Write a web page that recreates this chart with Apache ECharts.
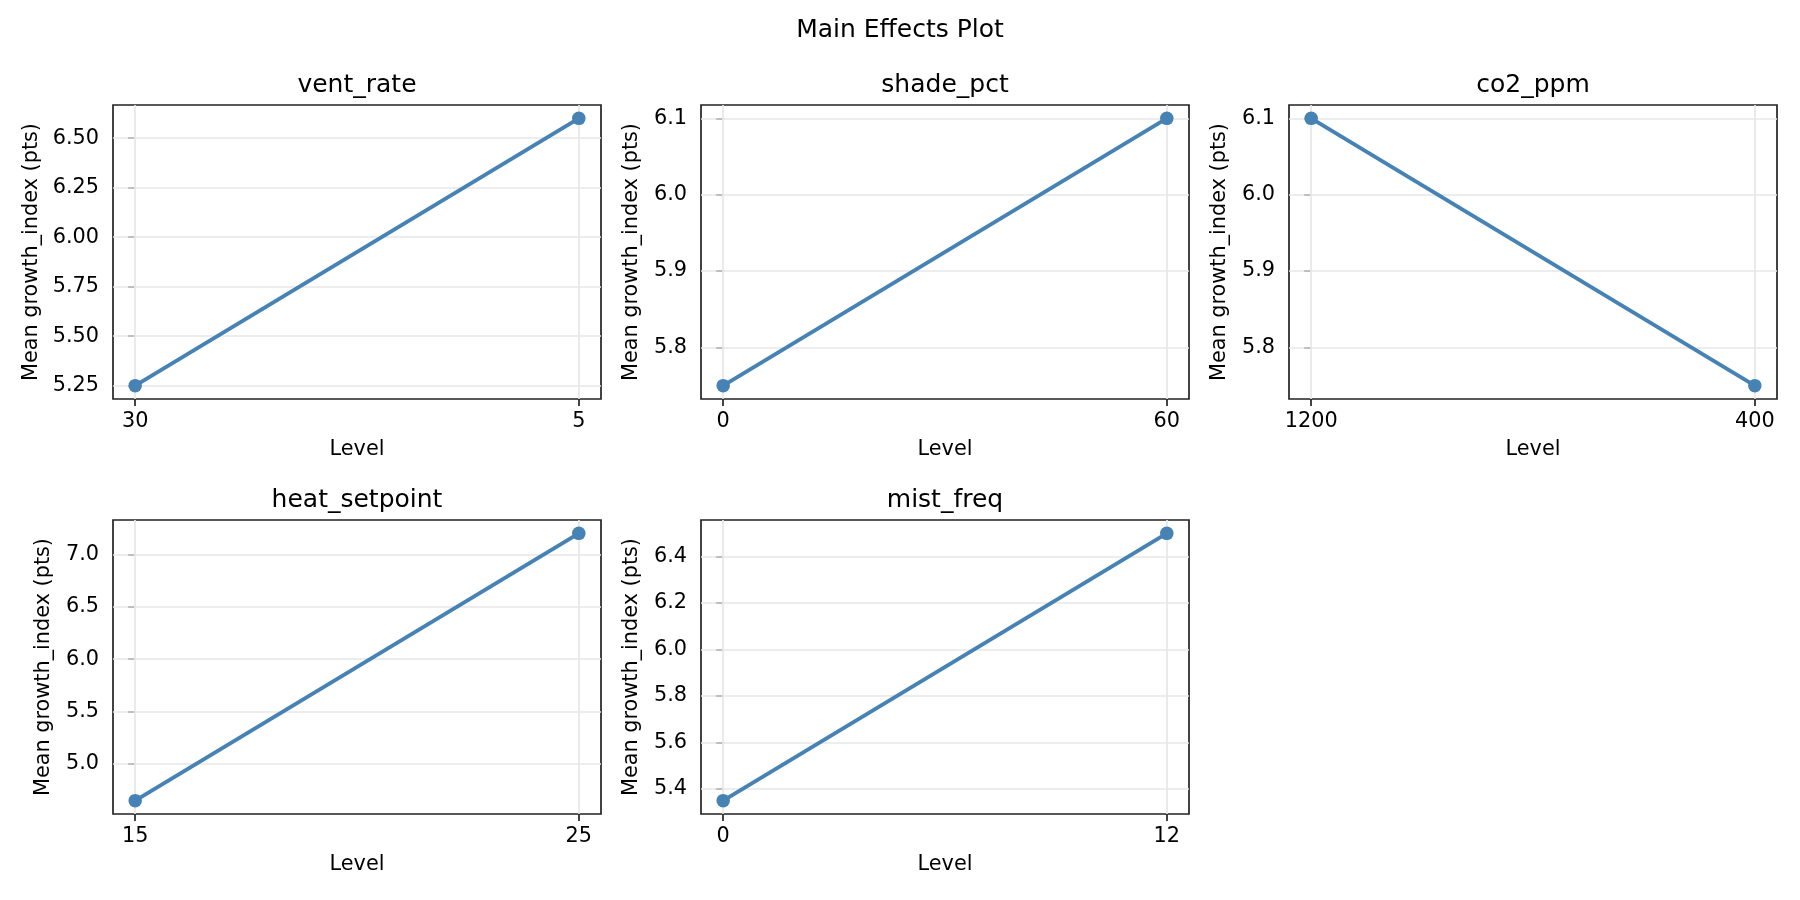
<!DOCTYPE html>
<html>
<head>
<meta charset="utf-8">
<title>Main Effects Plot</title>
<script src="https://cdn.jsdelivr.net/npm/echarts@6/dist/echarts.min.js"></script>
<style>
  html, body { margin: 0; padding: 0; background: #fff; }
  #chart { width: 1800px; height: 900px; }
</style>
</head>
<body>
<div id="chart"></div>
<script>
// factor names, their two levels, and the mean response at each level
const factors = ['vent_rate', 'shade_pct', 'co2_ppm', 'heat_setpoint', 'mist_freq'];
const levels = [['30', '5'], ['0', '60'], ['1200', '400'], ['15', '25'], ['0', '12']];
const means = [[5.25, 6.60], [5.75, 6.10], [6.10, 5.75], [4.65, 7.20], [5.35, 6.50]];
const yTicks = [
    ['5.25', '5.50', '5.75', '6.00', '6.25', '6.50'],
    ['5.8', '5.9', '6.0', '6.1'],
    ['5.8', '5.9', '6.0', '6.1'],
    ['5.0', '5.5', '6.0', '6.5', '7.0'],
    ['5.4', '5.6', '5.8', '6.0', '6.2', '6.4']
];

const chart = echarts.init(document.getElementById('chart'));

const font = 'DejaVu Sans';
const color = '#4682b4';
const gridColor = '#e7e7e7';
const spine = '#222';
const colLeft = [113, 701, 1289];
const rowTop = [105, 520];
const panelW = 488, panelH = 294;

const grids = [], xAxes = [], yAxes = [], series = [];
const titles = [{
    text: 'Main Effects Plot',
    left: 900, top: 18, textAlign: 'center', padding: 0,
    textStyle: { fontFamily: font, fontSize: 25, fontWeight: 'normal', color: '#000' }
}];

for (let i = 0; i < factors.length; i++) {
    const col = i % 3, row = Math.floor(i / 3);
    const lo = Math.min(...means[i]), hi = Math.max(...means[i]);
    const pad = (hi - lo) * 0.05;
    const tickVals = yTicks[i].map(Number);
    // the y label sits just clear of the widest tick label, like matplotlib does
    const widest = Math.max(...yTicks[i].map(s => s.length));
    const yNameGap = 58.5 + (widest - 3) * 12.8;

    grids.push({
        left: colLeft[col], top: rowTop[row], width: panelW, height: panelH,
        show: true, borderColor: spine, borderWidth: 1.7, backgroundColor: '#fff'
    });
    titles.push({
        text: factors[i],
        left: colLeft[col] + panelW / 2, top: rowTop[row] - 32, textAlign: 'center', padding: 0,
        textStyle: { fontFamily: font, fontSize: 25, fontWeight: 'normal', color: '#000' }
    });
    xAxes.push({
        type: 'value', gridIndex: i, min: -0.05, max: 1.05,
        name: 'Level', nameLocation: 'middle', nameGap: 40,
        nameTextStyle: { fontFamily: font, fontSize: 20.8, color: '#000' },
        axisLine: { show: false },
        axisTick: { show: true, length: 7, customValues: [0, 1], lineStyle: { color: spine, width: 1.7 } },
        axisLabel: {
            customValues: [0, 1], margin: 12,
            fontFamily: font, fontSize: 20.8, color: '#000',
            formatter: v => levels[i][Math.round(v)]
        },
        splitLine: { show: false }
    });
    yAxes.push({
        type: 'value', gridIndex: i, min: lo - pad, max: hi + pad,
        name: 'Mean growth_index (pts)', nameLocation: 'middle', nameGap: yNameGap,
        nameTextStyle: { fontFamily: font, fontSize: 20.8, color: '#000' },
        axisLine: { show: false },
        axisTick: { show: true, length: 7, customValues: tickVals, lineStyle: { color: spine, width: 1.7 } },
        axisLabel: {
            customValues: tickVals, margin: 14,
            fontFamily: font, fontSize: 20.8, color: '#000',
            formatter: v => {
                let best = 0;
                tickVals.forEach((t, k) => { if (Math.abs(t - v) < Math.abs(tickVals[best] - v)) best = k; });
                return yTicks[i][best];
            }
        },
        splitLine: { show: false }
    });

    // light grid lines at the tick positions
    const gridLines = [{ xAxis: 0 }, { xAxis: 1 }].concat(tickVals.map(t => ({ yAxis: t })));

    series.push({
        type: 'line', xAxisIndex: i, yAxisIndex: i,
        data: means[i].map((m, k) => [k, m]),
        symbol: 'circle', symbolSize: 13.5,
        itemStyle: { color: color },
        lineStyle: { color: color, width: 4 },
        z: 3,
        markLine: {
            silent: true, symbol: 'none', z: 1,
            label: { show: false },
            lineStyle: { color: gridColor, width: 1.7, type: 'solid' },
            emphasis: { disabled: true },
            data: gridLines
        }
    });
}

chart.setOption({
    animation: false,
    backgroundColor: '#fff',
    title: titles,
    grid: grids,
    xAxis: xAxes,
    yAxis: yAxes,
    series: series
});
</script>
</body>
</html>
